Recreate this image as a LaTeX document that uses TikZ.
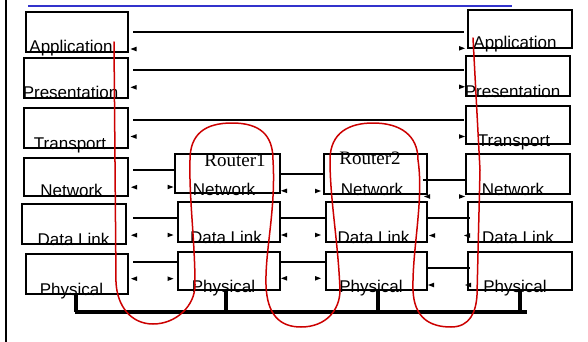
\documentclass[tikz,border=0pt]{standalone}
\usepackage{fontspec}
\newfontfamily\lbfont{Liberation Sans}
\newfontfamily\rtfont{Liberation Serif}
\newcommand\obox[5]{\node[box, minimum width={(#4)-(#2)}, minimum height={(#5)-(#3)}] (#1) at ({((#2)+(#4))/2},{((#3)+(#5))/2}) {};}
\newcommand\ltip[2]{\fill (#1,#2) -- ++(6,-2.3) -- ++(0,4.6) -- cycle;}
\newcommand\rtip[2]{\fill (#1,#2) -- ++(-6,-2.3) -- ++(0,4.6) -- cycle;}
\definecolor{loopred}{RGB}{204,0,0}
\definecolor{topblue}{RGB}{51,51,204}
\begin{document}
\begin{tikzpicture}[x=1pt,y=-1pt,
  box/.style={draw=black, line width=2pt, inner sep=0pt, outer sep=0pt},
  lbl/.style={font=\lbfont\fontsize{17}{19}\selectfont, inner sep=0pt, anchor=base},
  rlbl/.style={font=\rtfont\fontsize{19}{21}\selectfont, inner sep=0pt, anchor=base},
  link/.style={draw=black, line width=2pt},
  bus/.style={draw=black, line width=4pt},
  loop/.style={draw=loopred, line width=1.5pt, line join=round, line cap=round}]
\useasboundingbox (0,0) rectangle (588,342);
\fill[white] (0,0) rectangle (588,342);
% frame lines
\coordinate (fl1) at (5.5,0); \coordinate (fl2) at (5.5,342);
\draw[black, line width=2pt] (fl1) -- (fl2);
\coordinate (bl1) at (28,5.7); \coordinate (bl2) at (512,5.7);
\draw[topblue, line width=2pt] (bl1) -- (bl2);
% left stack
\obox{LA}{26}{12}{128}{52}
\obox{LP}{24}{58}{128}{98}
\obox{LT}{24}{108}{128}{148}
\obox{LN}{24}{158}{128}{196}
\obox{LD}{22}{204}{126}{244}
\obox{LPh}{26}{254}{128}{294}
% router 1
\obox{ANa}{175}{154}{280}{193}
\obox{ADa}{178}{202}{280}{242}
\obox{APa}{178}{252}{280}{290}
% router 2
\obox{BNa}{324}{154}{427}{194}
\obox{BDa}{326}{202}{427}{242}
\obox{BPa}{326}{252}{427}{290}
% right stack
\obox{RA}{468}{10}{572}{48}
\obox{RP}{466}{56}{570}{96}
\obox{RT}{466}{106}{570}{144}
\obox{RN}{466}{154}{570}{194}
\obox{RD}{468}{202}{572}{242}
\obox{RPh}{468}{252}{572}{290}
% labels
\node[lbl] (tLA) at (71,53) {Application};
\node[lbl] (tLP) at (70.5,99) {Presentation};
\node[lbl] (tLT) at (70,149) {Transport};
\node[lbl] (tLN) at (71.5,196.5) {Network};
\node[lbl] (tLD) at (73.5,245) {Data Link};
\node[lbl] (tLPh) at (71.5,295) {Physical};
\node[lbl] (tRA) at (515,49) {Application};
\node[lbl] (tRP) at (512.5,97.5) {Presentation};
\node[lbl] (tRT) at (514,146) {Transport};
\node[lbl] (tRN) at (513,195.5) {Network};
\node[lbl] (tRD) at (518,243) {Data Link};
\node[lbl] (tRPh) at (515,292) {Physical};
\node[rlbl] (tR1) at (235,166) {Router1};
\node[lbl] (tAN) at (224,195) {Network};
\node[lbl] (tAD) at (226,243) {Data Link};
\node[lbl] (tAP) at (223.5,292) {Physical};
\node[rlbl] (tR2) at (370,164) {Router2};
\node[lbl] (tBN) at (372,195) {Network};
\node[lbl] (tBD) at (373.5,243) {Data Link};
\node[lbl] (tBP) at (371,292) {Physical};
% peer links (end-to-end)
\coordinate (a1) at (133,32);    \coordinate (a2) at (464,32);
\coordinate (p1) at (133,70);    \coordinate (p2) at (464,70);
\coordinate (t1) at (133,119.7); \coordinate (t2) at (464,119.7);
\draw[link] (a1) -- (a2);
\draw[link] (p1) -- (p2);
\draw[link] (t1) -- (t2);
% left to router1
\coordinate (n1) at (133,170);   \coordinate (n2) at (ANa.west |- n1);
\coordinate (d1) at (133,217.7); \coordinate (d2) at (ADa.west |- d1);
\coordinate (h1) at (133,262.3); \coordinate (h2) at (APa.west |- h1);
\draw[link] (n1) -- (n2);
\draw[link] (d1) -- (d2);
\draw[link] (h1) -- (h2);
% router1 to router2
\coordinate (n3) at (280,173.5); \coordinate (n4) at (BNa.west |- n3);
\coordinate (d3) at (280,217.7); \coordinate (d4) at (BDa.west |- d3);
\coordinate (h3) at (280,262.3); \coordinate (h4) at (BPa.west |- h3);
\draw[link] (n3) -- (n4);
\draw[link] (d3) -- (d4);
\draw[link] (h3) -- (h4);
% router2 to right
\coordinate (n5) at (423,180);   \coordinate (n6) at (465,180);
\coordinate (d5) at (427,217.7); \coordinate (d6) at (470,217.7);
\coordinate (h5) at (427,267.7); \coordinate (h6) at (470,267.7);
\draw[link] (n5) -- (n6);
\draw[link] (d5) -- (d6);
\draw[link] (h5) -- (h6);
% arrowheads
\ltip{130.5}{49}    \rtip{465}{48.3}
\ltip{130.5}{87.3}  \rtip{465}{86.8}
\ltip{130.5}{136.5} \rtip{465}{136.5}
\ltip{131}{187.2}   \rtip{173.5}{187}
\ltip{131}{235.2}   \rtip{173.5}{235}
\ltip{131}{278.7}   \rtip{173.5}{278.7}
\ltip{281}{190.8}   \rtip{321}{191}
\ltip{281}{235}     \rtip{321}{235}
\ltip{281}{278.3}   \rtip{321}{278.3}
\ltip{424}{196.5}   \rtip{465}{196.5}
\ltip{429}{235.5}   \ltip{464}{235.5}
\ltip{428}{285}     \ltip{465}{285}
% bus
\coordinate (bus1) at (74.5,312); \coordinate (bus2) at (527,312);
\draw[bus] (bus1) -- (bus2);
\coordinate (k1) at (LPh.south -| 76,0);  \coordinate (k2) at (APa.south -| 226,0);
\coordinate (k3) at (BPa.south -| 378,0); \coordinate (k4) at (RPh.south -| 520,0);
\draw[bus] (k1) -- (k1 |- bus1);
\draw[bus] (k2) -- (k2 |- bus1);
\draw[bus] (k3) -- (k3 |- bus1);
\draw[bus] (k4) -- (k4 |- bus1);
% red loop path
\coordinate (r0) at (114,42);
\coordinate (r9) at (473,38);
\draw[loop] (r0) -- (116,282)
  .. controls (117,306) and (131,324) .. (153,324)
  .. controls (176,324) and (195,306) .. (195,285)
  .. controls (195,240) and (189,200) .. (190,160)
  .. controls (190,134) and (205,123) .. (232,123)
  .. controls (260,123) and (273,135) .. (273,160)
  .. controls (276,210) and (265,250) .. (266,285)
  .. controls (267,315) and (280,327) .. (301,327)
  .. controls (326,327) and (340,310) .. (340,290)
  .. controls (338,240) and (330,200) .. (330,160)
  .. controls (330,132) and (350,123) .. (373,123)
  .. controls (400,123) and (418,135) .. (418,160)
  .. controls (424,200) and (412,250) .. (413,290)
  .. controls (414,318) and (430,327) .. (451,327)
  .. controls (470,327) and (476,312) .. (477,295)
  -- (480,170) -- (r9);
\end{tikzpicture}
\end{document}
